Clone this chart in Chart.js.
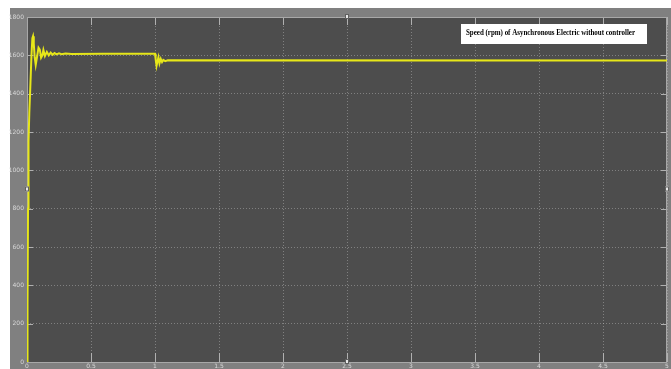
<!DOCTYPE html>
<html>
<head>
<meta charset="utf-8">
<script src="https://cdn.jsdelivr.net/npm/chart.js@4/dist/chart.umd.min.js"></script>
<style>
  html, body { margin: 0; padding: 0; background: #ffffff; }
  canvas { display: block; }
</style>
</head>
<body>
<canvas id="speedChart" width="671" height="369"></canvas>
<script>
// speed (rpm), time in seconds
const timeValues = [0, 0.004, 0.008, 0.012, 0.018, 0.025, 0.035, 0.042, 0.047, 0.053, 0.06, 0.068,
    0.078, 0.09, 0.1, 0.11, 0.12, 0.128, 0.14, 0.155, 0.17, 0.185, 0.2, 0.215, 0.23, 0.25, 0.27,
    0.3, 0.35, 0.6, 1.0, 1.005, 1.012, 1.02, 1.027, 1.035, 1.045, 1.055, 1.065, 1.08, 1.1, 5];
const speedValues = [0, 300, 800, 1150, 1300, 1420, 1600, 1690, 1700, 1660, 1590, 1550,
    1590, 1640, 1630, 1588, 1600, 1628, 1596, 1618, 1600, 1614, 1603, 1612, 1605, 1610, 1606,
    1609, 1607, 1608, 1608, 1580, 1545, 1570, 1590, 1558, 1582, 1565, 1576, 1570, 1574, 1573];
const xTicks = [0, 0.5, 1, 1.5, 2, 2.5, 3, 3.5, 4, 4.5, 5];
const yTicks = [0, 200, 400, 600, 800, 1000, 1200, 1400, 1600, 1800];
const titleText = "Speed (rpm) of Asynchronous Electric without controller";

// scope look: grey frame, dark plot, inner tick marks, title box, handles
const scopePlugin = {
    id: "scope",
    beforeDraw(chart) {
        const ctx = chart.ctx, a = chart.chartArea;
        ctx.save();
        ctx.fillStyle = "#808080";
        ctx.fillRect(10, 8, chart.width - 10, chart.height - 8);
        ctx.fillStyle = "#4d4d4d";
        ctx.fillRect(a.left, a.top, a.right - a.left, a.bottom - a.top);
        ctx.restore();
    },
    beforeDatasetsDraw(chart) {
        const ctx = chart.ctx, a = chart.chartArea;
        const xs = chart.scales.x, ys = chart.scales.y;
        ctx.save();
        ctx.strokeStyle = "#b0b0b0";
        ctx.lineWidth = 1;
        ctx.beginPath();
        xTicks.forEach(v => {
            const px = Math.round(xs.getPixelForValue(v)) + 0.5;
            ctx.moveTo(px, a.bottom); ctx.lineTo(px, a.bottom - 9);
            ctx.moveTo(px, a.top); ctx.lineTo(px, a.top + 8);
        });
        yTicks.forEach(v => {
            const py = Math.round(ys.getPixelForValue(v)) + 0.5;
            ctx.moveTo(a.left, py); ctx.lineTo(a.left + 6, py);
            ctx.moveTo(a.right, py); ctx.lineTo(a.right - 6, py);
        });
        ctx.stroke();
        ctx.strokeStyle = "#a8a8a8";
        ctx.strokeRect(a.left + 0.5, a.top + 0.5, a.right - a.left - 1, a.bottom - a.top);
        ctx.restore();
    },
    afterDraw(chart) {
        const ctx = chart.ctx, a = chart.chartArea;
        ctx.save();
        // title box
        ctx.fillStyle = "#ffffff";
        ctx.fillRect(461, 24, 186, 20);
        ctx.fillStyle = "#000000";
        ctx.font = "bold 7.5px 'Liberation Serif', serif";
        ctx.textBaseline = "middle";
        ctx.fillText(titleText, 466, 33.5, 169);
        // resize handles
        const handles = [[a.left, (a.top + a.bottom) / 2], [(a.left + a.right) / 2, a.top],
            [(a.left + a.right) / 2, a.bottom], [a.right, (a.top + a.bottom) / 2]];
        handles.forEach(([hx, hy]) => {
            ctx.fillStyle = "#e8e8e8";
            ctx.fillRect(hx - 2, hy - 3, 4, 5);
            ctx.strokeStyle = "#606060";
            ctx.strokeRect(hx - 1.5, hy - 2.5, 3, 4);
        });
        ctx.restore();
    }
};

new Chart(document.getElementById("speedChart"), {
    type: "line",
    data: {
        datasets: [{
            label: "Speed",
            data: timeValues.map((t, i) => ({ x: t, y: speedValues[i] })),
            borderColor: "#e6e619",
            borderWidth: 2,
            pointRadius: 0,
            tension: 0,
            fill: false
        }]
    },
    options: {
        responsive: false,
        animation: false,
        devicePixelRatio: 1,
        layout: { padding: { top: 17, right: 4, left: 0, bottom: 0 } },
        plugins: { legend: { display: false }, tooltip: { enabled: false } },
        scales: {
            x: {
                type: "linear",
                min: 0,
                max: 5,
                afterBuildTicks: s => { s.ticks = xTicks.map(v => ({ value: v })); },
                afterFit: s => { s.height = 7; },
                ticks: {
                    color: "#d8d8d8",
                    font: { size: 6, family: "DejaVu Sans" },
                    padding: 1,
                    maxRotation: 0,
                    autoSkip: false,
                    callback: v => String(v)
                },
                grid: { color: "rgba(200,200,200,0.42)", drawTicks: false },
                border: { display: false, dash: [1, 2] }
            },
            y: {
                type: "linear",
                min: 0,
                max: 1800,
                afterBuildTicks: s => { s.ticks = yTicks.map(v => ({ value: v })); },
                afterFit: s => { s.width = 27; },
                ticks: {
                    color: "#d8d8d8",
                    font: { size: 6, family: "DejaVu Sans" },
                    padding: 3,
                    autoSkip: false,
                    callback: v => String(v)
                },
                grid: { color: "rgba(200,200,200,0.42)", drawTicks: false },
                border: { display: false, dash: [1, 2] }
            }
        }
    },
    plugins: [scopePlugin]
});
</script>
</body>
</html>
